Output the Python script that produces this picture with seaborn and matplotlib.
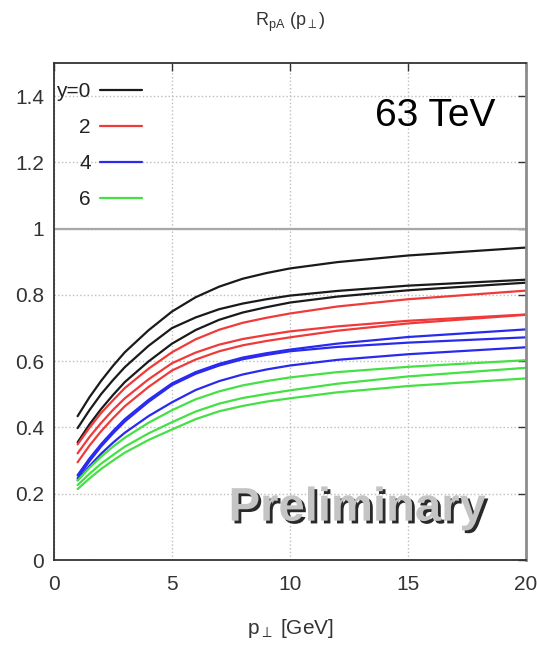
import matplotlib
matplotlib.use("Agg")
import matplotlib.pyplot as plt
import matplotlib.patheffects as pe
import pandas as pd
import seaborn as sns

# transverse momentum grid [GeV]
pt = [1, 1.5, 2, 2.5, 3, 4, 5, 6, 7, 8, 9, 10, 12, 15, 20]

# R_pA(p_perp) at 63 TeV, three model variants per rapidity bin
rpa_y0_a = [0.434, 0.491, 0.541, 0.586, 0.627, 0.693, 0.750, 0.793, 0.825, 0.849, 0.866, 0.880, 0.899, 0.919, 0.943]
rpa_y0_b = [0.398, 0.452, 0.501, 0.543, 0.582, 0.646, 0.700, 0.732, 0.757, 0.774, 0.787, 0.798, 0.812, 0.828, 0.846]
rpa_y0_c = [0.355, 0.409, 0.456, 0.498, 0.537, 0.599, 0.653, 0.694, 0.725, 0.747, 0.763, 0.777, 0.795, 0.814, 0.837]

rpa_y2_a = [0.349, 0.399, 0.444, 0.482, 0.519, 0.577, 0.627, 0.666, 0.695, 0.716, 0.731, 0.744, 0.765, 0.787, 0.813]
rpa_y2_b = [0.322, 0.371, 0.414, 0.453, 0.488, 0.545, 0.594, 0.626, 0.650, 0.667, 0.679, 0.690, 0.705, 0.722, 0.741]
rpa_y2_c = [0.295, 0.345, 0.389, 0.428, 0.464, 0.522, 0.572, 0.605, 0.630, 0.648, 0.661, 0.672, 0.692, 0.714, 0.740]

rpa_y4_a = [0.256, 0.306, 0.350, 0.389, 0.425, 0.483, 0.533, 0.567, 0.592, 0.611, 0.624, 0.635, 0.653, 0.673, 0.696]
rpa_y4_b = [0.247, 0.298, 0.343, 0.382, 0.418, 0.477, 0.528, 0.562, 0.587, 0.606, 0.619, 0.630, 0.643, 0.656, 0.672]
rpa_y4_c = [0.241, 0.283, 0.321, 0.354, 0.384, 0.434, 0.476, 0.513, 0.540, 0.560, 0.575, 0.587, 0.604, 0.621, 0.642]

rpa_y6_a = [0.240, 0.278, 0.312, 0.342, 0.369, 0.414, 0.452, 0.485, 0.509, 0.527, 0.540, 0.551, 0.567, 0.583, 0.603]
rpa_y6_b = [0.226, 0.260, 0.291, 0.317, 0.342, 0.382, 0.416, 0.448, 0.472, 0.489, 0.501, 0.512, 0.532, 0.554, 0.580]
rpa_y6_c = [0.214, 0.246, 0.275, 0.300, 0.324, 0.362, 0.394, 0.425, 0.449, 0.465, 0.478, 0.488, 0.506, 0.525, 0.548]

rapidity_labels = ["y=0", "2", "4", "6"]
curves = {
    "y=0": [rpa_y0_a, rpa_y0_b, rpa_y0_c],
    "2": [rpa_y2_a, rpa_y2_b, rpa_y2_c],
    "4": [rpa_y4_a, rpa_y4_b, rpa_y4_c],
    "6": [rpa_y6_a, rpa_y6_b, rpa_y6_c],
}
colors = {"y=0": "#1a1a1a", "2": "#f03a3a", "4": "#2a2aee", "6": "#44e044"}

rows = []
for lab in rapidity_labels:
    for k, series in enumerate(curves[lab]):
        for x, v in zip(pt, series):
            rows.append({"pt": x, "R": v, "rap": lab, "set": f"{lab}-{k}"})
df = pd.DataFrame(rows)

sns.set_style("white")
plt.rcParams["font.family"] = ["Liberation Sans", "DejaVu Sans"]
plt.rcParams["mathtext.fontset"] = "custom"
plt.rcParams["mathtext.rm"] = "Liberation Sans"
plt.rcParams["mathtext.it"] = "Liberation Sans"
plt.rcParams["mathtext.sf"] = "Liberation Sans"

fig = plt.figure(figsize=(5.37, 6.47), dpi=100)
ax = fig.add_axes([54 / 537, 1 - 560 / 647, 472 / 537, 497 / 647])

ax.grid(True, linestyle=":", color="#bdbdbd", linewidth=1.0)
ax.set_axisbelow(True)
ax.axhline(1.0, color="#a8a8a8", linewidth=1.6, zorder=1)

sns.lineplot(data=df, x="pt", y="R", hue="rap", units="set", estimator=None,
             palette=colors, hue_order=rapidity_labels, linewidth=1.6,
             ax=ax, legend=True)

old = ax.get_legend()
handles = old.legend_handles
labels = [t.get_text() for t in old.get_texts()]
for h in handles:
    h.set_linewidth(1.6)
leg = ax.legend(handles, labels, loc="upper right", bbox_to_anchor=(0.186, 0.962),
                frameon=False, markerfirst=False, handlelength=2.0,
                handletextpad=0.45, labelspacing=0.82, fontsize=15,
                borderpad=0, borderaxespad=0)
for t in leg.get_texts():
    t.set_color("#222222")

ax.set_xlim(0, 20)
ax.set_ylim(0, 1.5)
ax.set_xticks([0, 5, 10, 15, 20])
ax.set_yticks([0, 0.2, 0.4, 0.6, 0.8, 1.0, 1.2, 1.4])
ax.set_yticklabels(["0", "0.2", "0.4", "0.6", "0.8", "1", "1.2", "1.4"])
ax.tick_params(direction="in", length=6, width=1, color="#333333",
               top=True, right=True, labelsize=15, labelcolor="#333333")
ax.tick_params(axis="y", pad=7)
ax.tick_params(axis="x", pad=11)

for side in ["left", "bottom", "top"]:
    ax.spines[side].set_color("#333333")
    ax.spines[side].set_linewidth(1.3)
ax.spines["right"].set_color("#8c8c8c")
ax.spines["right"].set_linewidth(2.0)

ax.set_xlabel(r"$\mathrm{p_{\perp}\ [GeV]}$", fontsize=15, color="#333333", labelpad=16)
ax.set_ylabel("")
ax.set_title(r"$\mathrm{R_{pA}\ (p_{\perp})}$", fontsize=13, color="#333333", pad=27)

ax.text(13.6, 1.34, "63 TeV", fontsize=28, color="black",
        family=["Liberation Sans", "DejaVu Sans"], ha="left", va="center")
ax.text(12.85, 0.155, "Preliminary", fontsize=34, fontweight="bold",
        color="#c4c4c4", family=["Liberation Sans", "DejaVu Sans"],
        ha="center", va="center",
        path_effects=[pe.SimplePatchShadow(offset=(2, -2), shadow_rgbFace="#111111", alpha=0.9),
                      pe.Normal()])

fig.savefig("out.png", dpi=100)
